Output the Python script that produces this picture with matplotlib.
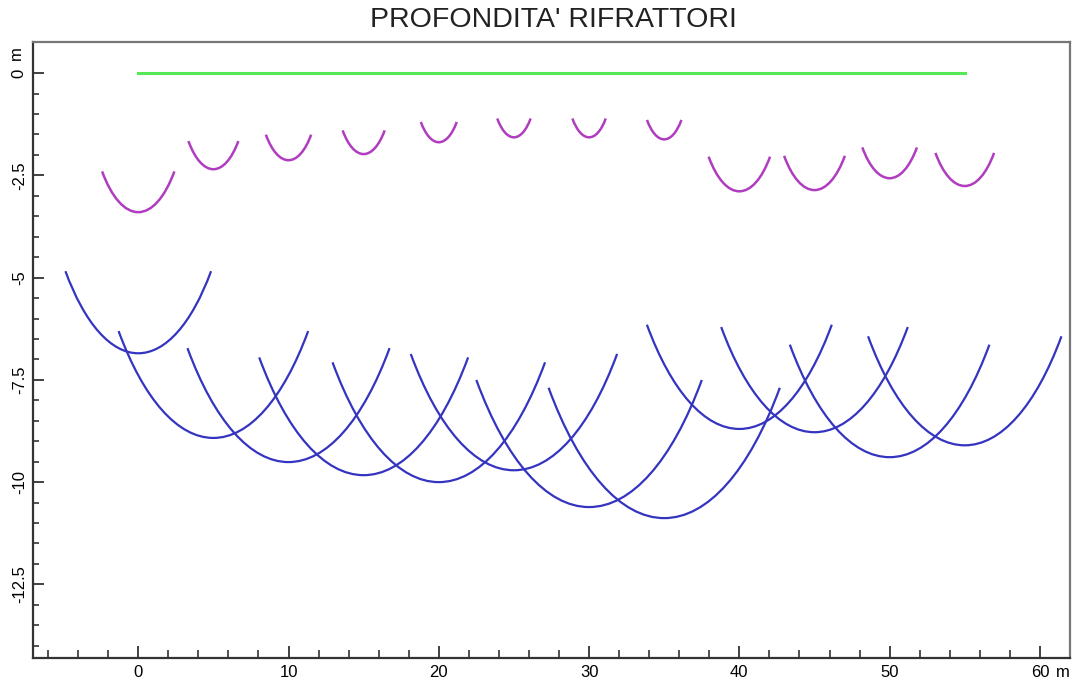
import numpy as np
import matplotlib
matplotlib.use("Agg")
import matplotlib.pyplot as plt
from matplotlib.patches import Arc
from matplotlib.ticker import FixedLocator

plt.rcParams['font.family'] = ['Liberation Sans', 'DejaVu Sans']

# posizioni dei geofoni [m]
stazioni = [0, 5, 10, 15, 20, 25, 30, 35, 40, 45, 50, 55]
# profondita' del primo rifrattore (archi magenta) [m]
prof_1 = [3.40, 2.35, 2.13, 1.98, 1.69, 1.57, 1.57, 1.62, 2.89, 2.86, 2.57, 2.76]
# profondita' del secondo rifrattore (archi blu) [m]
prof_2 = [6.85, 8.92, 9.51, 9.83, 10.0, 9.71, 10.61, 10.88, 8.70, 8.78, 9.39, 9.10]

fig = plt.figure(figsize=(10.8, 6.82), dpi=100)
ax = fig.add_axes([0.0306, 0.0352, 0.9601, 0.9032])

# superficie topografica
ax.plot([stazioni[0], stazioni[-1]], [0, 0], color='#55e855', lw=2.2)

# archi di profondita' (+/- 45 gradi sotto ogni geofono)
for x, r in zip(stazioni, prof_1):
    ax.add_patch(Arc((x, 0), 2 * r, 2 * r, theta1=225, theta2=315,
                     color='#b03cc0', lw=1.8))
for x, r in zip(stazioni, prof_2):
    ax.add_patch(Arc((x, 0), 2 * r, 2 * r, theta1=225, theta2=315,
                     color='#3434c0', lw=1.6))

ax.set_xlim(-7, 62)
ax.set_ylim(-14.3, 0.76)

ax.xaxis.set_major_locator(FixedLocator(np.arange(0, 61, 10)))
ax.xaxis.set_minor_locator(FixedLocator(np.arange(-6, 61, 2)))
ax.yaxis.set_major_locator(FixedLocator(np.arange(-12.5, 0.1, 2.5)))
ax.yaxis.set_minor_locator(FixedLocator(np.arange(-14, 0, 0.5)))
ax.yaxis.set_major_formatter(plt.FuncFormatter(lambda v, p: f"{v:g}"))

ax.tick_params(axis='x', which='major', direction='in', length=9, width=1.3,
               labelsize=12, pad=5, color='#333333')
ax.tick_params(axis='x', which='minor', direction='in', length=5.5, width=1.2,
               color='#333333')
ax.tick_params(axis='y', which='major', direction='in', length=8, width=1.3,
               labelsize=12, pad=4.5, color='#333333')
ax.tick_params(axis='y', which='minor', direction='in', length=4.5, width=1.2,
               color='#333333')
for lab in ax.get_yticklabels():
    lab.set_rotation(90)
    lab.set_va('center')

for s in ['left', 'bottom']:
    ax.spines[s].set_linewidth(1.6)
    ax.spines[s].set_color('#333333')
for s in ['top', 'right']:
    ax.spines[s].set_linewidth(1.6)
    ax.spines[s].set_color('#777777')

# unita' di misura sugli assi
ax.text(-0.0165, 0.993, 'm', transform=ax.transAxes, rotation=90,
        ha='center', va='top', fontsize=12)
ax.text(0.993, -0.011, 'm', transform=ax.transAxes,
        ha='center', va='top', fontsize=12)

fig.text(0.512, 0.970, "PROFONDITA' RIFRATTORI", ha='center', va='center',
         fontsize=20.5, color='#222222')

fig.savefig("out.png", dpi=100)
